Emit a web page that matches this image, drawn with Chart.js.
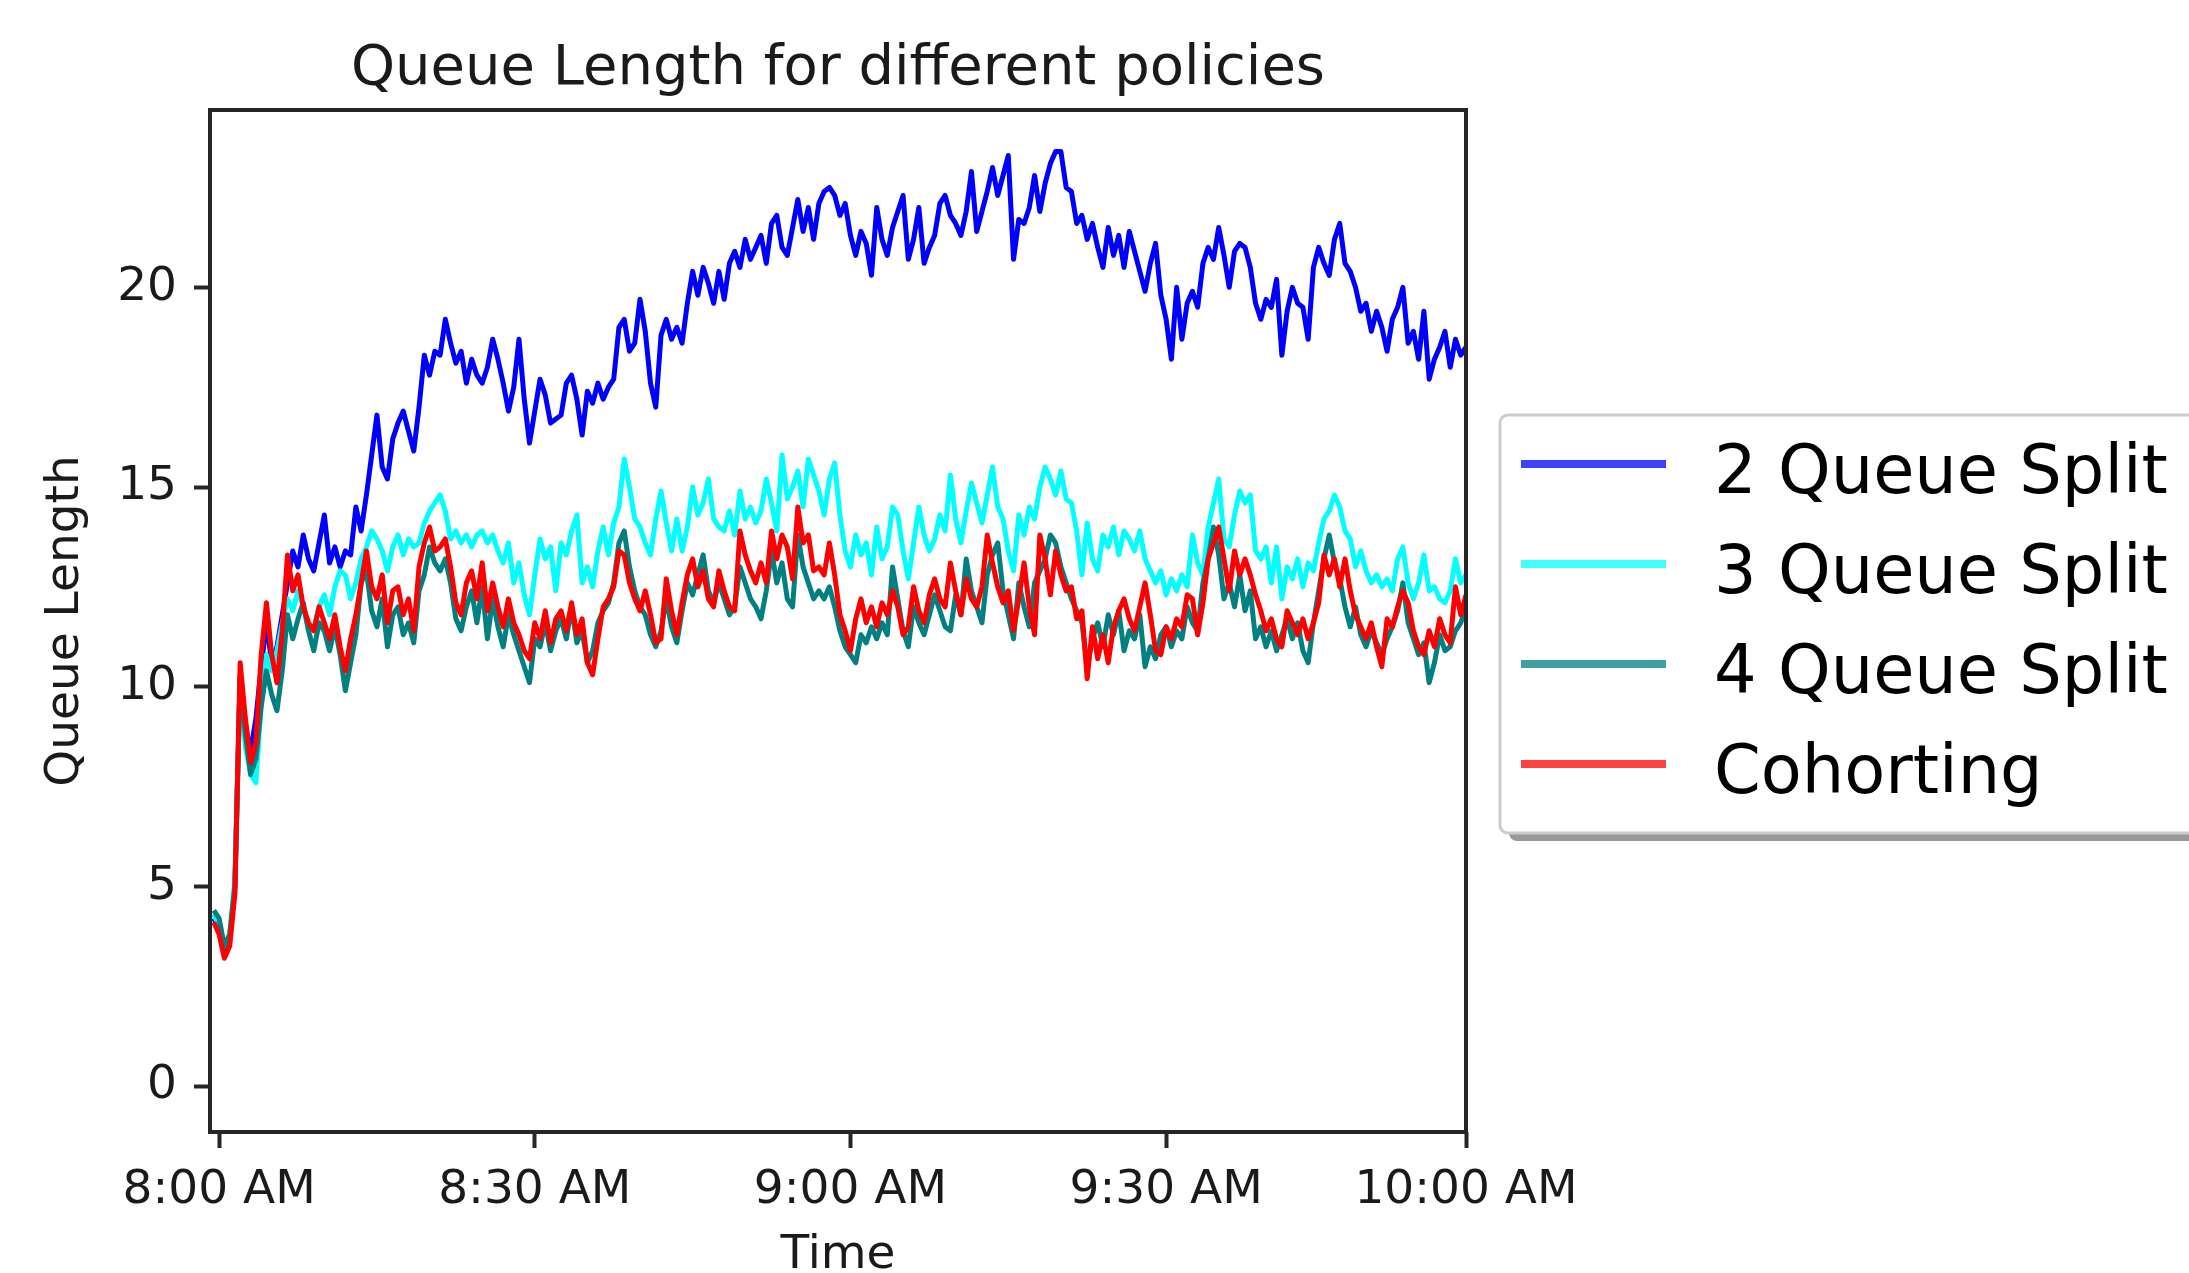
<!DOCTYPE html>
<html>
<head>
<meta charset="utf-8">
<script src="https://cdn.jsdelivr.net/npm/chart.js@4.4.1/dist/chart.umd.min.js"></script>
<style>
  html, body { margin: 0; padding: 0; background: #fff; }
  canvas { display: block; }
</style>
</head>
<body>
<canvas id="queueChart" width="2189" height="1273"></canvas>
<script>
// time axis: minutes after 8:00, one sample every half minute
const startMinute = -0.5;
const stepMinutes = 0.5;

const seriesNames = ["2 Queue Split", "3 Queue Split", "4 Queue Split", "Cohorting"];
const seriesColors = ["#0000ff", "#00ffff", "#008080", "#ff0000"];
const legendColors = ["#4040ff", "#40ffff", "#40a0a0", "#ff4040"];

const xTickValues = [0, 30, 60, 90, 118.5];
const xTickLabels = ["8:00 AM", "8:30 AM", "9:00 AM", "9:30 AM", "10:00 AM"];
const yTickValues = [0, 5, 10, 15, 20];

const queue2 = [4.2,
  3.9, 3.3, 3.6, 5.0, 10.3, 9.0, 8.4, 9.2, 10.5, 11.6,
  10.6, 11.0, 11.8, 12.6, 13.4, 13.0, 13.8, 13.2, 12.9, 13.6,
  14.3, 13.1, 13.5, 13.0, 13.4, 13.3, 14.5, 13.9, 14.8, 15.8,
  16.8, 15.5, 15.2, 16.2, 16.6, 16.9, 16.4, 15.9, 17.0, 18.3,
  17.8, 18.4, 18.3, 19.2, 18.6, 18.1, 18.4, 17.6, 18.2, 17.8,
  17.6, 18.0, 18.7, 18.2, 17.6, 16.9, 17.5, 18.7, 17.2, 16.1,
  16.9, 17.7, 17.3, 16.6, 16.7, 16.8, 17.6, 17.8, 17.2, 16.3,
  17.4, 17.1, 17.6, 17.2, 17.5, 17.7, 19.0, 19.2, 18.4, 18.6,
  19.7, 18.9, 17.6, 17.0, 18.8, 19.2, 18.7, 19.0, 18.6, 19.6,
  20.4, 19.8, 20.5, 20.1, 19.6, 20.4, 19.7, 20.6, 20.9, 20.5,
  21.2, 20.7, 21.0, 21.3, 20.6, 21.6, 21.8, 21.0, 20.8, 21.5,
  22.2, 21.4, 22.0, 21.2, 22.1, 22.4, 22.5, 22.3, 21.8, 22.1,
  21.3, 20.8, 21.4, 21.1, 20.3, 22.0, 21.2, 20.8, 21.5, 21.9,
  22.3, 20.7, 21.2, 22.0, 20.6, 21.0, 21.3, 22.1, 22.3, 21.8,
  21.6, 21.3, 21.9, 22.9, 21.4, 21.9, 22.4, 23.0, 22.3, 22.8,
  23.3, 20.7, 21.7, 21.6, 22.0, 22.8, 21.9, 22.6, 23.1, 23.4,
  23.4, 22.5, 22.4, 21.6, 21.8, 21.2, 21.6, 21.0, 20.5, 21.5,
  20.8, 21.3, 20.5, 21.4, 20.9, 20.4, 19.9, 20.6, 21.1, 19.8,
  19.2, 18.2, 20.0, 18.7, 19.6, 19.9, 19.5, 20.6, 21.0, 20.7,
  21.5, 20.8, 20.0, 20.9, 21.1, 21.0, 20.5, 19.6, 19.2, 19.7,
  19.5, 20.2, 18.3, 19.4, 20.0, 19.6, 19.5, 18.7, 20.5, 21.0,
  20.6, 20.3, 21.2, 21.6, 20.6, 20.4, 20.0, 19.4, 19.6, 18.9,
  19.4, 19.0, 18.4, 19.2, 19.5, 20.0, 18.6, 18.9, 18.2, 19.4,
  17.7, 18.2, 18.5, 18.9, 18.0, 18.7, 18.3, 18.5];

const queue3 = [4.3,
  4.0, 3.5, 3.7, 5.2, 10.0, 8.5, 7.8, 7.6, 9.6, 10.8,
  10.4, 10.9, 11.6, 12.2, 11.9, 12.4, 12.0, 11.4, 11.5, 12.0,
  12.3, 11.8, 12.5, 12.9, 12.8, 12.2, 12.6, 13.2, 13.5, 13.9,
  13.7, 13.4, 12.9, 13.5, 13.8, 13.3, 13.7, 13.5, 13.6, 14.1,
  14.4, 14.6, 14.8, 14.4, 13.7, 13.9, 13.6, 13.8, 13.5, 13.8,
  13.9, 13.6, 13.8, 13.4, 13.1, 13.6, 12.6, 13.1, 12.3, 11.8,
  12.8, 13.7, 13.2, 13.5, 12.4, 13.6, 13.3, 13.9, 14.3, 12.6,
  13.0, 12.5, 13.4, 14.0, 13.3, 14.1, 14.5, 15.7, 15.0, 14.2,
  14.0, 13.6, 13.3, 14.2, 14.9, 14.1, 13.4, 14.2, 13.4, 14.0,
  15.0, 14.3, 14.6, 15.2, 14.2, 14.0, 13.9, 14.4, 13.8, 14.9,
  14.2, 14.5, 14.1, 14.4, 15.2, 14.6, 13.9, 15.8, 14.7, 15.0,
  15.4, 14.5, 15.7, 15.3, 14.9, 14.3, 15.2, 15.6, 14.3, 13.4,
  13.0, 13.8, 13.3, 13.6, 12.8, 14.0, 13.2, 13.5, 14.5, 14.3,
  13.4, 12.7, 13.6, 14.5, 13.8, 13.4, 13.7, 14.3, 13.9, 15.3,
  14.2, 13.6, 14.4, 15.1, 14.6, 14.1, 14.8, 15.5, 14.5, 14.2,
  13.4, 12.9, 14.3, 13.8, 14.5, 14.2, 15.0, 15.5, 15.2, 14.8,
  15.4, 14.7, 14.6, 13.9, 12.8, 14.1, 13.2, 12.9, 13.8, 13.5,
  14.0, 13.3, 13.9, 13.7, 13.4, 13.9, 13.2, 12.9, 12.6, 12.9,
  12.3, 12.7, 12.4, 12.8, 12.5, 13.8, 13.1, 12.8, 14.0, 14.6,
  15.2, 13.7, 13.5, 14.3, 14.9, 14.6, 14.8, 13.4, 13.2, 13.5,
  12.6, 13.5, 12.2, 13.0, 12.7, 13.2, 12.5, 13.1, 12.9, 13.6,
  14.2, 14.4, 14.8, 14.5, 13.9, 13.7, 13.0, 13.4, 12.9, 12.6,
  12.8, 12.5, 12.7, 12.4, 13.2, 13.5, 12.6, 12.2, 12.6, 13.3,
  12.4, 12.5, 12.2, 12.1, 12.4, 13.2, 12.6, 12.8];

const queue4 = [4.4,
  4.2, 3.5, 3.8, 5.0, 10.2, 8.8, 7.8, 8.2, 9.5, 10.4,
  9.8, 9.4, 10.4, 11.8, 11.2, 11.7, 12.1, 11.4, 10.9, 11.6,
  11.4, 10.9, 11.5, 10.8, 9.9, 10.6, 11.3, 12.6, 12.9, 11.9,
  11.5, 12.2, 11.0, 11.8, 12.0, 11.3, 11.6, 11.1, 12.4, 12.8,
  13.5, 13.1, 12.9, 13.2, 12.6, 11.7, 11.4, 12.0, 12.4, 11.6,
  12.5, 11.2, 12.2, 11.5, 11.0, 11.8, 11.3, 10.9, 10.5, 10.1,
  11.2, 11.0, 11.6, 10.9, 11.4, 11.7, 11.2, 12.0, 11.1, 11.4,
  10.6, 10.9, 11.6, 11.9, 12.1, 12.6, 13.6, 13.9, 13.0, 12.4,
  12.0, 11.8, 11.3, 11.0, 11.4, 12.2, 11.5, 11.1, 11.9, 12.6,
  12.3, 12.8, 13.3, 12.4, 12.1, 12.6, 12.2, 11.8, 12.0, 13.0,
  12.6, 12.2, 12.0, 11.7, 12.4, 13.4, 12.6, 13.1, 12.2, 12.0,
  13.8, 13.0, 12.6, 12.2, 12.4, 12.2, 12.5, 12.0, 11.4, 11.0,
  10.8, 10.6, 11.3, 11.1, 11.5, 11.2, 11.6, 11.3, 13.0, 12.2,
  11.4, 11.0, 12.0, 11.6, 11.3, 11.8, 12.3, 11.9, 11.5, 11.4,
  12.3, 11.8, 13.2, 12.4, 12.0, 11.6, 12.8, 13.3, 13.6, 12.4,
  11.8, 11.2, 12.6, 12.0, 11.5, 12.6, 12.9, 13.2, 13.8, 13.6,
  13.0, 12.6, 12.2, 11.9, 11.6, 10.5, 11.2, 11.6, 11.0, 11.8,
  11.3, 11.9, 10.9, 11.4, 11.2, 11.8, 10.5, 11.0, 10.7, 11.3,
  11.5, 11.0, 11.4, 11.2, 12.0, 11.6, 11.4, 12.6, 13.2, 14.0,
  13.3, 12.2, 12.6, 12.0, 12.8, 11.9, 12.4, 11.2, 11.5, 11.0,
  11.4, 10.9, 11.3, 11.7, 11.2, 11.6, 10.9, 10.6, 11.6, 12.4,
  13.2, 13.8, 13.1, 12.7, 12.0, 11.5, 12.0, 11.3, 11.0, 11.4,
  11.1, 10.8, 11.2, 11.5, 11.9, 12.6, 11.6, 11.2, 10.8, 11.1,
  10.1, 10.6, 11.3, 10.9, 11.0, 11.4, 11.6, 12.0];

const cohorting = [4.1,
  3.8, 3.2, 3.5, 4.8, 10.6, 9.2, 8.1, 8.6, 10.8, 12.1,
  10.8, 10.1, 11.4, 13.3, 12.4, 12.8, 12.0, 11.6, 11.4, 12.0,
  11.6, 11.2, 11.8, 11.0, 10.4, 11.2, 11.8, 12.6, 13.4, 12.5,
  12.2, 12.8, 11.6, 12.4, 12.5, 11.8, 12.2, 11.4, 13.0, 13.6,
  14.0, 13.4, 13.5, 13.7, 13.0, 12.1, 11.8, 12.6, 12.9, 12.2,
  13.1, 11.9, 12.6, 12.0, 11.5, 12.2, 11.6, 11.3, 10.9, 10.7,
  11.6, 11.2, 11.9, 11.1, 11.7, 11.9, 11.4, 12.1, 11.3, 11.7,
  10.6, 10.3, 11.2, 12.0, 12.2, 12.5, 13.4, 13.3, 12.6, 12.2,
  11.9, 12.4, 11.8, 11.1, 11.2, 12.7, 11.9, 11.3, 12.1, 12.8,
  13.2, 12.5, 12.9, 12.2, 12.0, 12.9, 12.4, 12.0, 11.9, 13.9,
  13.3, 12.9, 12.6, 13.1, 12.6, 13.9, 13.2, 13.8, 13.5, 12.7,
  14.5, 13.6, 13.8, 12.9, 13.0, 12.8, 13.6, 12.8, 11.8, 11.4,
  10.9, 11.7, 12.2, 11.6, 12.0, 11.5, 12.1, 11.8, 12.4, 12.0,
  11.3, 11.5, 12.5, 11.9, 11.6, 12.3, 12.7, 12.2, 12.0, 13.1,
  12.4, 11.8, 12.7, 12.2, 12.0, 12.5, 13.8, 13.1, 12.5, 12.1,
  12.4, 11.4, 12.2, 13.1, 12.0, 11.3, 13.8, 13.2, 12.3, 13.4,
  12.8, 12.4, 12.5, 11.7, 11.9, 10.2, 11.5, 10.7, 11.3, 10.6,
  11.5, 11.9, 12.2, 11.7, 11.4, 12.0, 12.6, 11.8, 10.9, 10.8,
  11.5, 11.2, 11.7, 11.5, 12.3, 12.2, 11.3, 12.1, 13.2, 13.6,
  14.0, 13.2, 12.4, 13.4, 12.8, 13.2, 12.8, 12.3, 11.9, 11.4,
  11.7, 11.2, 11.0, 11.9, 11.6, 11.3, 11.7, 11.2, 11.6, 12.1,
  13.3, 12.8, 13.2, 12.5, 13.2, 12.4, 11.8, 11.5, 11.2, 11.6,
  11.0, 10.5, 11.7, 11.5, 12.0, 12.4, 12.1, 11.4, 11.0, 10.8,
  11.4, 11.0, 11.7, 11.3, 11.1, 12.5, 11.8, 12.3];

const allSeries = [queue2, queue3, queue4, cohorting];
const FONT = "'DejaVu Sans', sans-serif";

function toPoints(values) {
  return values.map((v, i) => ({ x: startMinute + i * stepMinutes, y: v }));
}

// frame, title and legend (matplotlib style)
const decorations = {
  id: "decorations",
  afterDatasetsDraw(chart) {
    const { ctx, chartArea: a } = chart;
    ctx.save();
    ctx.strokeStyle = "#262626";
    ctx.lineWidth = 4;
    ctx.strokeRect(a.left, a.top, a.right - a.left, a.bottom - a.top);
    ctx.restore();
  },
  afterDraw(chart) {
    const { ctx, chartArea: a } = chart;
    ctx.save();

    // title
    ctx.fillStyle = "#1a1a1a";
    ctx.font = "56px " + FONT;
    ctx.textAlign = "center";
    ctx.textBaseline = "alphabetic";
    ctx.fillText("Queue Length for different policies", (a.left + a.right) / 2, 84);

    // legend box with shadow
    const bx = 1500, by = 415, bw = 760, bh = 418;
    ctx.fillStyle = "rgba(0,0,0,0.4)";
    ctx.beginPath();
    ctx.roundRect(bx + 9, by + 8, bw, bh, 8);
    ctx.fill();
    ctx.fillStyle = "#ffffff";
    ctx.strokeStyle = "#cccccc";
    ctx.lineWidth = 3;
    ctx.beginPath();
    ctx.roundRect(bx, by, bw, bh, 8);
    ctx.fill();
    ctx.stroke();

    ctx.font = "67px " + FONT;
    ctx.textAlign = "left";
    seriesNames.forEach((name, i) => {
      const y = 464 + i * 100;
      ctx.strokeStyle = legendColors[i];
      ctx.lineWidth = 8;
      ctx.beginPath();
      ctx.moveTo(1521, y);
      ctx.lineTo(1666, y);
      ctx.stroke();
      ctx.fillStyle = "#000000";
      ctx.fillText(name, 1714, y + 29);
    });
    ctx.restore();
  }
};

new Chart(document.getElementById("queueChart"), {
  type: "line",
  data: {
    datasets: seriesNames.map((name, i) => ({
      label: name,
      data: toPoints(allSeries[i]),
      borderColor: seriesColors[i],
      backgroundColor: seriesColors[i],
      borderWidth: 5,
      pointRadius: 0,
      tension: 0,
      borderJoinStyle: "round",
      fill: false,
      order: seriesNames.length - i   // cohorting drawn last, on top
    }))
  },
  options: {
    responsive: false,
    animation: false,
    events: [],
    layout: { padding: { left: 0, top: 110, right: 723, bottom: 0 } },
    plugins: {
      legend: { display: false },
      title: { display: false },
      tooltip: { enabled: false }
    },
    scales: {
      x: {
        type: "linear",
        min: -0.865,
        max: 118.5,
        afterBuildTicks: (scale) => { scale.ticks = xTickValues.map(v => ({ value: v })); },
        afterFit: (scale) => { scale.height = 141; },
        grid: { display: true, drawOnChartArea: false, drawTicks: true, tickLength: 16, tickWidth: 4, tickColor: "#262626" },
        border: { display: false },
        ticks: {
          autoSkip: false,
          maxRotation: 0,
          padding: 15,
          color: "#1a1a1a",
          font: { family: FONT, size: 47 },
          callback: (value, index) => xTickLabels[index]
        },
        title: {
          display: true,
          text: "Time",
          color: "#1a1a1a",
          font: { family: FONT, size: 47, lineHeight: 0.75 },
          padding: { top: 0, bottom: 0 }
        }
      },
      y: {
        min: -1.15,
        max: 24.44,
        afterBuildTicks: (scale) => { scale.ticks = yTickValues.map(v => ({ value: v })); },
        afterFit: (scale) => { scale.width = 210; },
        grid: { display: true, drawOnChartArea: false, drawTicks: true, tickLength: 16, tickWidth: 4, tickColor: "#262626" },
        border: { display: false },
        ticks: {
          padding: 17,
          color: "#1a1a1a",
          font: { family: FONT, size: 47 },
          callback: (value) => String(value)
        },
        title: {
          display: true,
          text: "Queue Length",
          color: "#1a1a1a",
          font: { family: FONT, size: 47, lineHeight: 0.75 },
          padding: { top: 48, bottom: 0 }
        }
      }
    }
  },
  plugins: [decorations]
});
</script>
</body>
</html>
